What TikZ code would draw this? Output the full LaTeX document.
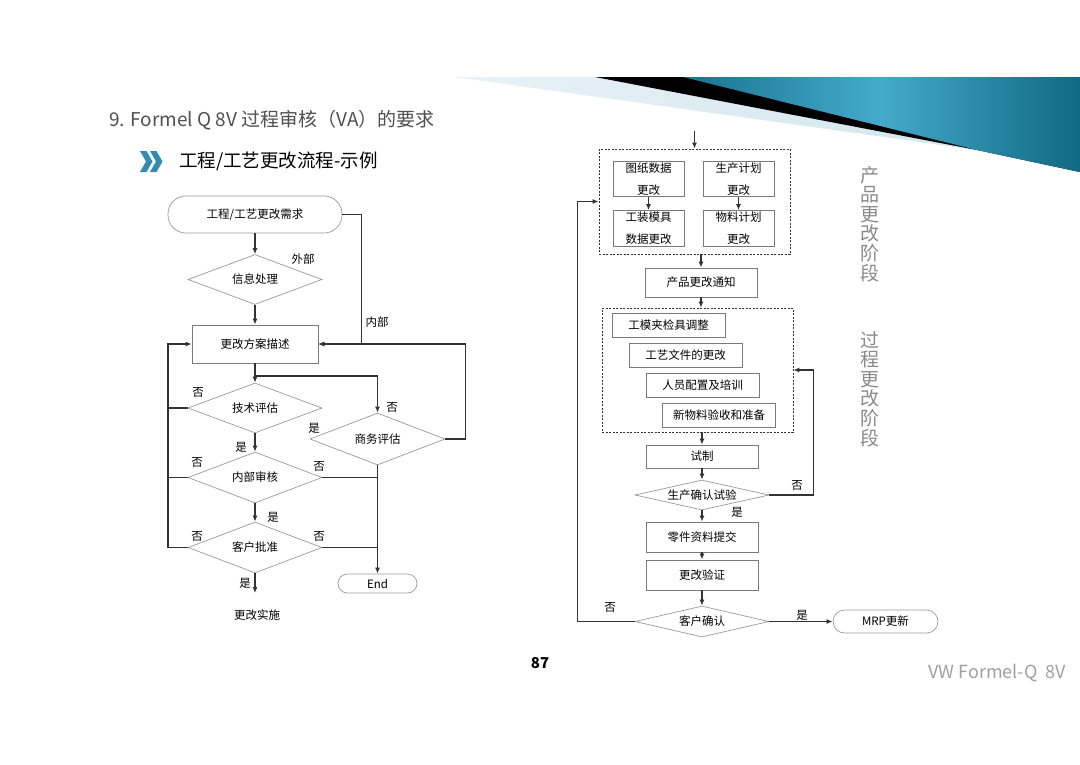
\documentclass[tikz,border=0pt]{standalone}
\usepackage{fontspec}
\setmainfont{Noto Sans CJK SC}
\usetikzlibrary{shapes.geometric,arrows.meta,calc}
\definecolor{linec}{HTML}{333333}
\definecolor{boxc}{HTML}{7A7A7A}
\definecolor{diac}{HTML}{9A9A9A}
\definecolor{titlec}{HTML}{505050}
\definecolor{vertc}{HTML}{8A8A8A}
\definecolor{footc}{HTML}{A0A0A0}
\definecolor{lightband}{HTML}{CFE4ED}
\definecolor{lightband2}{HTML}{E8F2F6}
\definecolor{tealA}{HTML}{17738F}
\definecolor{tealB}{HTML}{45AACB}
\definecolor{tealC}{HTML}{106984}
\definecolor{chev}{HTML}{2F8DB3}
\newcommand{\fsn}{\fontsize{11.5}{13}\selectfont}
\begin{document}
\begin{tikzpicture}[x=1pt,y=-1pt,
  line/.style={draw=linec,line width=1.2pt},
  arr/.style={line,-{Latex[length=6pt,width=5pt]}},
  box/.style={draw=boxc,line width=0.8pt,fill=white,inner sep=0pt,font=\fsn,text=black},
  term/.style={draw=diac,line width=0.7pt,fill=white,inner sep=0pt,font=\fsn,text=black},
  dia/.style={diamond,draw=diac,line width=0.7pt,fill=white,inner sep=0pt,font=\fsn,text=black},
  dbox/.style={draw=linec,line width=0.7pt,dash pattern=on 2pt off 1.5pt},
  lbl/.style={font=\fsn,text=black,inner sep=0pt},
  vert/.style={font=\fontsize{19}{19.6}\selectfont,text=vertc,align=center,inner sep=0pt}]
\useasboundingbox (0,0) rectangle (1080,764);
\fill[white] (0,0) rectangle (1080,764);
% decorative band
\shade[left color=lightband2,right color=lightband] (455,77) -- (1080,77) -- (1080,172) -- (977,150) -- cycle;
\fill[black] (595,77) -- (1080,77) -- (1080,172) -- (977,150) -- cycle;
\begin{scope}
\clip (683,77) -- (1080,77) -- (1080,172) -- (977,150) -- cycle;
\shade[left color=tealA,right color=tealB] (683,77) rectangle (880,175);
\shade[left color=tealB,right color=tealC] (879,77) rectangle (1080,175);
\end{scope}
% title
\node[anchor=west,inner sep=0pt,font=\fontsize{19}{22}\selectfont,text=titlec] (title) at (109,120) {9. Formel Q 8V 过程审核（VA）的要求};
\fill[chev] (140,151) -- (146.5,151) -- (152.5,161.5) -- (146.5,172) -- (140,172) -- (146,161.5) -- cycle;
\fill[chev] (150,151) -- (156.5,151) -- (162.5,161.5) -- (156.5,172) -- (150,172) -- (156,161.5) -- cycle;
\node[anchor=west,inner sep=0pt,font=\fontsize{18.5}{22}\selectfont,text=black] (subtitle) at (179,161) {工程/工艺更改流程-示例};
% ---------- left flowchart ----------
\node[term,rounded corners=18pt,minimum width=174,minimum height=37] (start) at (255,214.5) {工程/工艺更改需求};
\node[dia,aspect=2.68,minimum width=134,minimum height=50] (info) at (255,279.5) {信息处理};
\node[box,minimum width=126,minimum height=38] (desc) at (255,344) {更改方案描述};
\node[dia,aspect=2.68,minimum width=134,minimum height=50] (tech) at (255,408) {技术评估};
\node[dia,aspect=2.6,minimum width=135,minimum height=52] (biz) at (377.5,439) {商务评估};
\node[dia,aspect=2.63,minimum width=134,minimum height=51] (intr) at (255,477.5) {内部审核};
\node[dia,aspect=2.63,minimum width=134,minimum height=51] (cust) at (255,547.5) {客户批准};
\node[term,rounded corners=9.5pt,minimum width=79,minimum height=19] (endn) at (377.5,583.5) {End};
\node[lbl] (impl) at (257,615) {更改实施};
\coordinate (implin) at (255,593);
\coordinate (lrail) at (168,344);

\draw[arr] (start.south) -- (info.north);
\draw[arr] (info.south) -- (desc.north);
\draw[arr] (start.east) -- ++(19,0) |- (desc.east);
\draw[arr] (biz.east) -- ++(20,0) |- (desc.east);
\draw[arr] (desc.south) -- (tech.north);
\draw[arr] ($(desc.south)!0.65!(tech.north)$) -| (biz.north);
\draw[arr] (tech.west) -| (lrail) -- (desc.west);
\draw[line] (intr.west) -- (intr.west -| lrail);
\draw[line] (cust.west) -| (lrail);
\draw[arr] (tech.south) -- (intr.north);
\draw[arr] (intr.south) -- (cust.north);
\draw[arr] (cust.south) -- (implin);
\draw[line] (intr.east) -- (intr.east -| biz.south);
\draw[line] (cust.east) -- (cust.east -| biz.south);
\draw[arr] (biz.south) -- (endn.north);

\node[lbl] at (303,259) {外部};
\node[lbl] at (377,322) {内部};
\node[lbl] at (198,392) {否};
\node[lbl] at (392,407) {否};
\node[lbl] at (314,428) {是};
\node[lbl] at (241,447) {是};
\node[lbl] at (197,462) {否};
\node[lbl] at (319,466) {否};
\node[lbl] at (273,517) {是};
\node[lbl] at (197,536) {否};
\node[lbl] at (319,536) {否};
\node[lbl] at (245,583) {是};
% ---------- right flowchart ----------
\node[dbox,minimum width=191,minimum height=105,inner sep=0pt] (box1) at (694.5,201.5) {};
\node[box,minimum width=71,minimum height=35,align=center,font=\fontsize{11.5}{22}\selectfont] (drw) at (648.5,179) {图纸数据\\更改};
\node[box,minimum width=71,minimum height=35,align=center,font=\fontsize{11.5}{22}\selectfont] (plan) at (738.5,179) {生产计划\\更改};
\node[box,minimum width=71,minimum height=36,align=center,font=\fontsize{11.5}{22}\selectfont] (tool) at (648.5,228.5) {工装模具\\数据更改};
\node[box,minimum width=71,minimum height=36,align=center,font=\fontsize{11.5}{22}\selectfont] (mat) at (738.5,228.5) {物料计划\\更改};
\draw[arr] (drw.south) -- (tool.north);
\draw[arr] (plan.south) -- (mat.north);
\coordinate (topin) at (694.5,131);
\draw[arr] (topin) -- (box1.north);

\node[box,minimum width=112,minimum height=29] (prod) at (701,282.5) {产品更改通知};
\draw[arr] (prod.north |- box1.south) -- (prod.north);

\node[dbox,minimum width=191,minimum height=124,inner sep=0pt] (box2) at (697.5,370) {};
\draw[arr] (prod.south) -- (prod.south |- box2.north);
\node[box,minimum width=113,minimum height=24] (b1) at (668.5,325) {工模夹检具调整};
\node[box,minimum width=113,minimum height=24] (b2) at (685.5,355) {工艺文件的更改};
\node[box,minimum width=113,minimum height=24] (b3) at (702.5,385) {人员配置及培训};
\node[box,minimum width=113,minimum height=24] (b4) at (719,415) {新物料验收和准备};

\node[box,minimum width=112,minimum height=23] (trial) at (702,456.5) {试制};
\draw[arr] (trial.north |- box2.south) -- (trial.north);
\node[dia,aspect=4.5,minimum width=134,minimum height=30] (ptest) at (702,495) {生产确认试验};
\draw[arr] (trial.south) -- (ptest.north);
\draw[arr] (ptest.east) -| ([xshift=20pt]box2.east) -- (box2.east);
\node[box,minimum width=112,minimum height=30] (parts) at (702,537) {零件资料提交};
\draw[arr] (ptest.south) -- (parts.north);
\node[box,minimum width=112,minimum height=30] (verif) at (702,575) {更改验证};
\draw[arr] (parts.south) -- (verif.north);
\node[dia,aspect=4.3,minimum width=134,minimum height=31] (cconf) at (702,621.5) {客户确认};
\draw[arr] (verif.south) -- (cconf.north);
\draw[arr] (cconf.west) -| ([xshift=-21pt]box1.west) -- (box1.west);
\node[term,rounded corners=11.5pt,minimum width=105,minimum height=23] (mrp) at (885.5,621.5) {MRP更新};
\draw[arr] (cconf.east) -- (mrp.west);

\node[lbl] at (797,485) {否};
\node[lbl] at (737,512) {是};
\node[lbl] at (610,607) {否};
\node[lbl] at (802,615) {是};

\node[vert] (v1) at (870,224) {产\\品\\更\\改\\阶\\段};
\node[vert] (v2) at (870,389) {过\\程\\更\\改\\阶\\段};
% footer
\node[inner sep=0pt,font=\fontsize{15}{17}\selectfont\bfseries,text=black] (pg) at (540,663) {87};
\node[anchor=east,inner sep=0pt,font=\fontsize{18}{20}\selectfont,text=footc] (vw) at (1066,673) {VW Formel-Q\ \ 8V};
\end{tikzpicture}
\end{document}
